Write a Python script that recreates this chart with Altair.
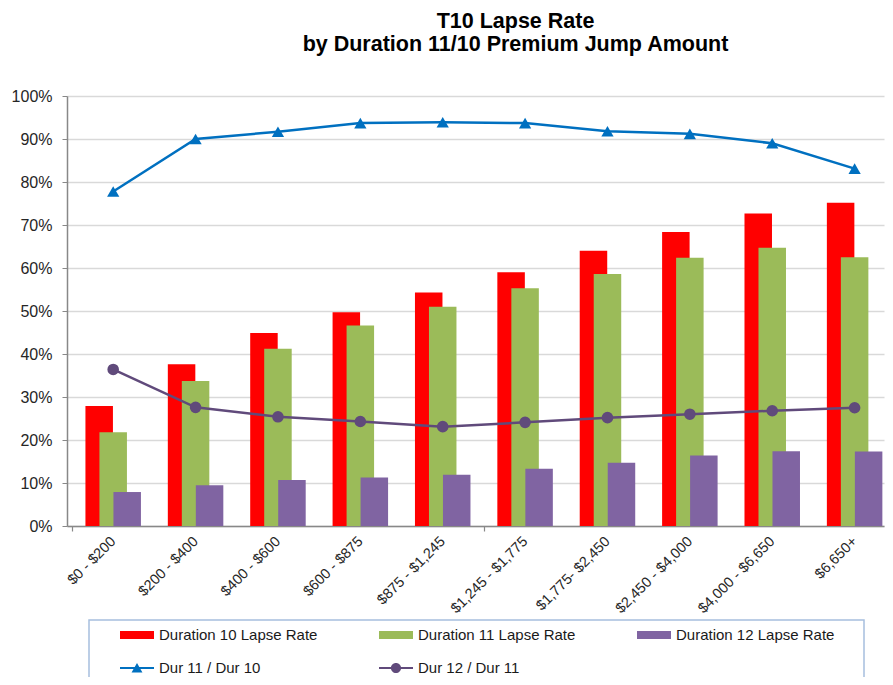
import json
import altair as alt
import pandas as pd

# ---------------- data ----------------
categories = ["$0 - $200", "$200 - $400", "$400 - $600", "$600 - $875", "$875 - $1,245",
              "$1,245 - $1,775", "$1,775- $2,450", "$2,450 - $4,000", "$4,000 - $6,650", "$6,650+"]
dur10_rate = [27.9, 37.6, 44.9, 49.7, 54.3, 59.0, 64.0, 68.4, 72.7, 75.2]
dur11_rate = [21.8, 33.7, 41.2, 46.6, 51.0, 55.3, 58.6, 62.4, 64.7, 62.5]
dur12_rate = [7.9, 9.5, 10.7, 11.3, 11.9, 13.3, 14.7, 16.4, 17.4, 17.3]
ratio_11_10 = [77.8, 90.0, 91.7, 93.7, 93.9, 93.7, 91.8, 91.2, 89.0, 83.1]
ratio_12_11 = [36.4, 27.6, 25.4, 24.3, 23.1, 24.1, 25.2, 26.0, 26.8, 27.5]
series_names = ["Duration 10 Lapse Rate", "Duration 11 Lapse Rate", "Duration 12 Lapse Rate",
                "Dur 11 / Dur 10", "Dur 12 / Dur 11"]
series_colors = ["#FF0000", "#9BBB59", "#8064A2", "#0070C0", "#604A7B"]

# legend swatch shapes (unit box -1..1)
bar_swatch = "M-1,-0.24 L1,-0.24 L1,0.24 L-1,0.24 Z"
tri_swatch = "M-1,-0.06 L1,-0.06 L1,0.06 L-1,0.06 Z M-0.32,0.26 L0,-0.3 L0.32,0.26 Z"
dot_swatch = ("M-1,-0.06 L1,-0.06 L1,0.06 L-1,0.06 Z "
              "M0.3,0 A0.3,0.3 0 1,1 -0.3,0 A0.3,0.3 0 1,1 0.3,0 Z")
series_shapes = [bar_swatch, bar_swatch, bar_swatch, tri_swatch, dot_swatch]

idx = list(range(len(categories)))
df = pd.DataFrame({
    "idx": idx,
    "cat": categories,
    "d10": [v / 100 for v in dur10_rate],
    "d11": [v / 100 for v in dur11_rate],
    "d12": [v / 100 for v in dur12_rate],
    "r1110": [v / 100 for v in ratio_11_10],
    "r1211": [v / 100 for v in ratio_12_11],
})
legend_df = pd.DataFrame({"series": series_names})
box_df = pd.DataFrame({"a": [0]})

FONT = "Liberation Sans"

# ---------------- scales / axes ----------------
# category labels at integer positions; tick marks every 5 category boundaries
tick_values = sorted(idx + [i - 0.5 for i in idx if i % 5 == 0])
cat_js = json.dumps(categories)
x_scale = alt.Scale(domain=[-0.5, 9.296], nice=False, zero=False)
x_axis = alt.Axis(
    values=tick_values,
    labelExpr=f"datum.value % 1 == 0 ? {cat_js}[datum.value] : ''",
    labelAngle=-45, labelFontSize=14.5, labelFont=FONT, labelColor="#262626",
    labelPadding=3, labelOffset=-5, labelOverlap=False, labelFlush=False, labelBound=False,
    tickSize=5, tickColor="#888888", tickWidth=1.2,
    tickOpacity={"condition": {"test": "datum.value % 1 == 0", "value": 0}, "value": 1},
    domainColor="#888888", domainWidth=1.5, grid=False, title=None,
)
y_scale = alt.Scale(domain=[0, 1], nice=False)
y_axis = alt.Axis(
    values=[i / 10 for i in range(11)], format=".0%",
    labelFontSize=16, labelFont=FONT, labelColor="#262626", labelPadding=10,
    tickSize=5, tickColor="#888888", domainColor="#888888", domainWidth=1.5,
    gridColor="#D9D9D9", gridWidth=1.5, title=None,
)

base = alt.Chart(df)

def xenc():
    return alt.X("idx:Q", scale=x_scale, axis=x_axis)

def yenc(field):
    return alt.Y(f"{field}:Q", scale=y_scale, axis=y_axis)

bar_w = 27.5
bars10 = base.mark_bar(size=bar_w, xOffset=-14, color=series_colors[0], orient="vertical").encode(
    x=xenc(), y=yenc("d10"))
bars11 = base.mark_bar(size=bar_w, xOffset=0, color=series_colors[1], orient="vertical").encode(
    x=xenc(), y=yenc("d11"))
bars12 = base.mark_bar(size=bar_w, xOffset=14, color=series_colors[2], orient="vertical").encode(
    x=xenc(), y=yenc("d12"))

line1 = base.mark_line(color=series_colors[3], strokeWidth=2.5).encode(x=xenc(), y=yenc("r1110"))
pts1 = base.mark_point(shape="triangle-up", filled=True, size=150, color=series_colors[3], opacity=1).encode(
    x=xenc(), y=yenc("r1110"))
line2 = base.mark_line(color=series_colors[4], strokeWidth=2.5).encode(x=xenc(), y=yenc("r1211"))
pts2 = base.mark_point(shape="circle", filled=True, size=135, color=series_colors[4], opacity=1).encode(
    x=xenc(), y=yenc("r1211"))

legend = alt.Legend(
    orient="none", legendX=53, legendY=522, direction="horizontal", columns=3,
    symbolSize=34 * 34, symbolStrokeWidth=0, symbolOpacity=1,
    labelFontSize=15, labelFont=FONT, labelColor="#1a1a1a", labelOffset=5, labelLimit=400,
    columnPadding=61, rowPadding=8, padding=0, title=None,
)
legend_layer = alt.Chart(legend_df).mark_point(filled=True, opacity=0).encode(
    x=alt.value(0), y=alt.value(0),
    color=alt.Color("series:N", scale=alt.Scale(domain=series_names, range=series_colors), legend=legend),
    shape=alt.Shape("series:N", scale=alt.Scale(domain=series_names, range=series_shapes), legend=legend),
)

box = alt.Chart(box_df).mark_rect(fillOpacity=0, stroke="#A7BFDE", strokeWidth=1.5).encode(
    x=alt.value(22), x2=alt.value(797), y=alt.value(524), y2=alt.value(640))

chart = alt.layer(
    bars10, bars11, bars12, line1, pts1, line2, pts2, legend_layer, box
).properties(
    width=817, height=430,
    title=alt.TitleParams(
        ["T10 Lapse Rate", "by Duration 11/10 Premium Jump Amount"],
        fontSize=21.5, font=FONT, fontWeight="bold", color="#000000",
        anchor="middle", dx=40, offset=33, lineHeight=23,
    ),
    autosize=alt.AutoSizeParams(type="none"),
    padding={"left": 59, "top": 88, "right": 1, "bottom": 151},
).configure(font=FONT, view=alt.ViewConfig(stroke=None))

chart.save("out.html", embed_options={"renderer": "svg", "actions": False})
